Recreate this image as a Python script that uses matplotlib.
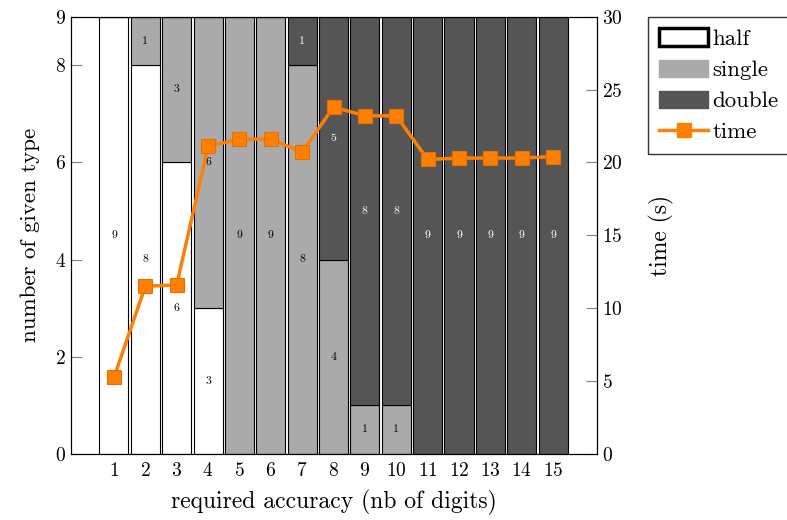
import numpy as np
import matplotlib.pyplot as plt
from matplotlib.patches import Patch
from matplotlib.lines import Line2D

plt.rcParams['font.family'] = ['cmr10', 'DejaVu Serif']
plt.rcParams['mathtext.fontset'] = 'cm'
plt.rcParams['axes.formatter.use_mathtext'] = True

digits = np.arange(1, 16)
half = [9, 8, 6, 3, 0, 0, 0, 0, 0, 0, 0, 0, 0, 0, 0]
single = [0, 1, 3, 6, 9, 9, 8, 4, 1, 1, 0, 0, 0, 0, 0]
double = [0, 0, 0, 0, 0, 0, 1, 5, 8, 8, 9, 9, 9, 9, 9]
time_s = [5.25, 11.5, 11.6, 21.1, 21.6, 21.6, 20.7, 23.8, 23.2, 23.2, 20.2, 20.3, 20.3, 20.3, 20.4]

c_half, c_single, c_double = 'white', '#aaaaaa', '#555555'
c_time = '#ff7f00'

fig = plt.figure(figsize=(7.87, 5.2), dpi=100)
ax = fig.add_axes([0.0902, 0.127, 0.6684, 0.841])

w = 0.925
h = np.array(half); s = np.array(single); d = np.array(double)
ax.bar(digits, h, w, color=c_half, edgecolor='black', linewidth=0.8)
ax.bar(digits, s, w, bottom=h, color=c_single, edgecolor='black', linewidth=0.8)
ax.bar(digits, d, w, bottom=h + s, color=c_double, edgecolor='black', linewidth=0.8)

for i, x in enumerate(digits):
    if h[i] > 0:
        ax.text(x, h[i] / 2, str(h[i]), ha='center', va='center', fontsize=8.5, color='black')
    if s[i] > 0:
        ax.text(x, h[i] + s[i] / 2, str(s[i]), ha='center', va='center', fontsize=8.5, color='black')
    if d[i] > 0:
        ax.text(x, h[i] + s[i] + d[i] / 2, str(d[i]), ha='center', va='center', fontsize=8.5, color='white')

ax.set_xlim(-0.37, 16.4)
ax.set_ylim(0, 9)
ax.set_xticks(digits)
ax.set_yticks([0, 2, 4, 6, 8, 9])
ax.tick_params(axis='x', length=0, labelsize=14, pad=6)
ax.tick_params(axis='y', direction='in', length=8, color='gray', labelsize=14)
ax.set_xlabel('required accuracy (nb of digits)', fontsize=17, labelpad=7)
ax.set_ylabel('number of given type', fontsize=16.5, labelpad=11)

ax2 = ax.twinx()
ax2.plot(digits, time_s, '-s', color=c_time, linewidth=2.5, markersize=10,
         markeredgecolor='#e87000', markeredgewidth=0.8)
ax2.set_ylim(0, 30)
ax2.set_yticks([0, 5, 10, 15, 20, 25, 30])
ax2.tick_params(axis='y', direction='in', length=8, color='gray', labelsize=14)
ax2.set_ylabel('time (s)', fontsize=17, labelpad=19)

handles = [Patch(facecolor=c_half, edgecolor='black', linewidth=2.5, label='half'),
           Patch(facecolor=c_single, edgecolor=c_single, label='single'),
           Patch(facecolor=c_double, edgecolor=c_double, label='double'),
           Line2D([0], [0], color=c_time, linewidth=2.5, marker='s', markersize=10, label='time')]
fig.legend(handles=handles, loc='upper left', bbox_to_anchor=(648 / 787, 1 - 17 / 520),
           fontsize=16.5, frameon=True, fancybox=False, edgecolor='black',
           handlelength=2.1, handleheight=0.8, handletextpad=0.2, labelspacing=0.45,
           borderpad=0.5, borderaxespad=0)

fig.savefig('out.png', dpi=100)
